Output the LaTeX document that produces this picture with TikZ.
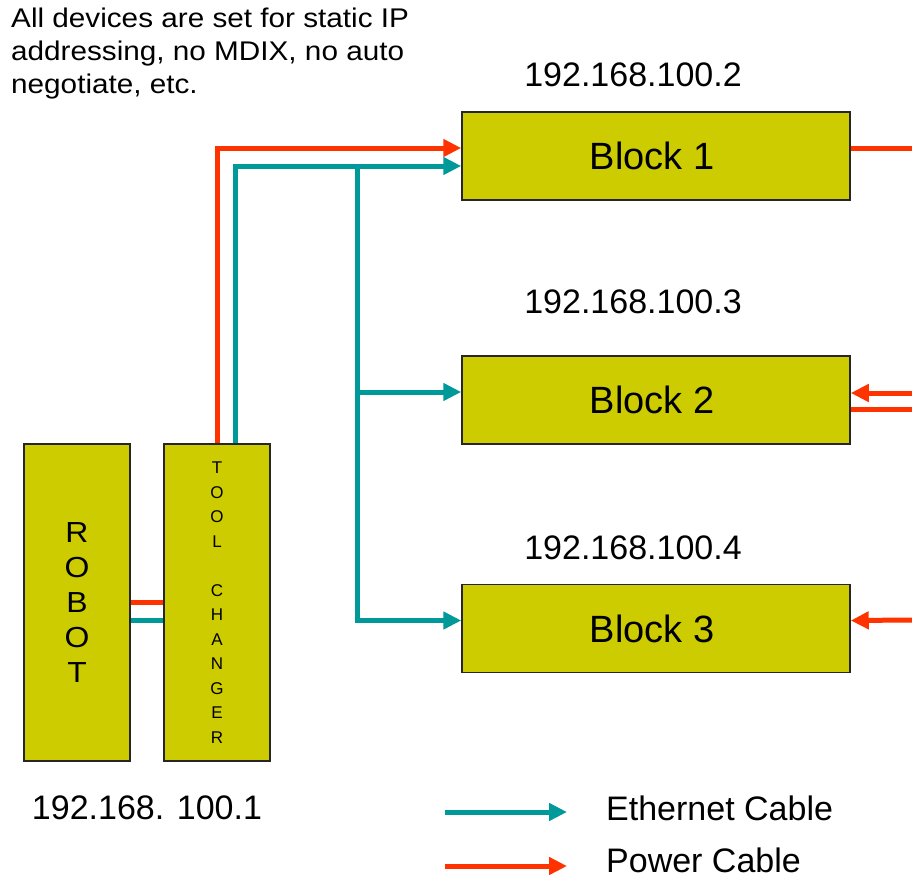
\documentclass[tikz,border=0pt]{standalone}
\usepackage{fontspec}
\setmainfont{Liberation Sans}
\newfontfamily\widefont[FakeStretch=1.1]{Liberation Sans}
\usetikzlibrary{arrows.meta}
\definecolor{blockfill}{HTML}{CCCC00}
\definecolor{pwr}{HTML}{FF3300}
\definecolor{eth}{HTML}{009999}
\begin{document}
\begin{tikzpicture}[x=1pt,y=-1pt,
  box/.style={draw=black!85,line width=1.5pt,fill=blockfill,inner sep=0pt},
  blk/.style={box,minimum width=388pt,minimum height=88pt,font=\fontsize{38}{44}\selectfont},
  tall/.style={box,minimum width=106pt,minimum height=317pt,align=center},
  cable/.style={line width=5pt},
  pwline/.style={cable,draw=pwr},
  ethline/.style={cable,draw=eth},
  tip/.style={-{Triangle[length=18pt,width=17pt]}},
  lbl/.style={inner sep=0pt,font=\fontsize{34}{40}\selectfont}
]
\useasboundingbox (0,0) rectangle (912,880);
\fill[white] (0,0) rectangle (912,880);

\node[inner sep=0pt,anchor=north west,align=left,font=\widefont\fontsize{27}{33}\selectfont] (note) at (11,8)
  {All devices are set for static IP\\addressing, no MDIX, no auto\\negotiate, etc.};

\node[blk] (b1) at (656,156) {\hspace*{-8pt}Block 1};
\node[blk] (b2) at (656,400) {\hspace*{-8pt}Block 2};
\node[blk] (b3) at (656,628.5) {\hspace*{-8pt}Block 3};

\node[lbl] (ip2) at (633,75) {192.168.100.2};
\node[lbl] (ip3) at (633,302) {192.168.100.3};
\node[lbl] (ip4) at (633,548) {192.168.100.4};
\node[lbl] (ip1) at (147,808) {192.168. 100.1};

\node[tall,font=\widefont\fontsize{29}{35}\selectfont] (robot) at (77,602.5) {R\\O\\B\\O\\T};
\node[tall,font=\fontsize{17}{24.5}\selectfont] (tc) at (217,602.5) {T\\O\\O\\L\\[24.5pt]C\\H\\A\\N\\G\\E\\R};

% tool changer to block 1
\draw[pwline,tip] (tc.north) |- ([yshift=8pt]b1.west);
\draw[ethline,tip] ([xshift=18pt]tc.north) |- ([yshift=-10pt]b1.west);
\coordinate (j) at (357,166);
\draw[ethline,tip] (j) |- ([yshift=8pt]b2.west);
\draw[ethline,tip] (j) |- ([yshift=8pt]b3.west);

% robot to tool changer
\draw[pwline] (robot.east) -- (tc.west);
\draw[ethline] ([yshift=-18pt]robot.east) -- ([yshift=-18pt]tc.west);

% right side power cables
\coordinate (r1) at (912,148);
\coordinate (r2a) at (912,393);
\coordinate (r2b) at (912,409);
\coordinate (r3) at (912,620);
\draw[pwline] ([yshift=8pt]b1.east) -- (r1);
\draw[pwline,tip] (r2a) -- ([yshift=7pt]b2.east);
\draw[pwline] ([yshift=-9pt]b2.east) -- (r2b);
\draw[pwline,tip] (r3) -- ([yshift=8pt]b3.east);

% legend
\coordinate (le1) at (445,812);
\coordinate (le2) at (567,812);
\coordinate (lp1) at (445,866);
\coordinate (lp2) at (567,866);
\draw[ethline,tip] (le1) -- (le2);
\draw[pwline,tip] (lp1) -- (lp2);
\node[lbl,anchor=west] (leth) at (606,808) {Ethernet Cable};
\node[lbl,anchor=west] (lpwr) at (606,860) {Power Cable};
\end{tikzpicture}
\end{document}
